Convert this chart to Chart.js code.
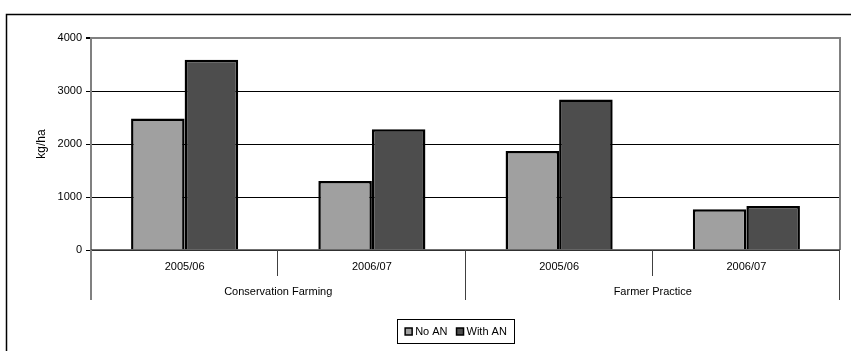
<!DOCTYPE html>
<html>
<head>
<meta charset="utf-8">
<script src="https://cdn.jsdelivr.net/npm/chart.js@4"></script>
<style>
  html, body { margin: 0; padding: 0; background: #fff; }
  #wrap { width: 851px; height: 351px; }
</style>
</head>
<body>
<div id="wrap"><canvas id="yieldChart" width="851" height="351"></canvas></div>
<script>
// chart data
const years = ["2005/06", "2006/07", "2005/06", "2006/07"];
const groups = ["Conservation Farming", "Farmer Practice"];
const groupOf = [0, 0, 1, 1];
const noAN = [2480, 1300, 1870, 770];
const withAN = [3590, 2280, 2840, 830];
const yTicks = [0, 1000, 2000, 3000, 4000];

const FONT = "'Liberation Sans', Arial, sans-serif";

// frame, right border, two-level x axis and boxed legend
const decorations = {
  id: "decorations",
  afterDraw(chart) {
    const ctx = chart.ctx;
    const a = chart.chartArea;
    const x = chart.scales.x;
    const half = (x.getPixelForValue(1) - x.getPixelForValue(0)) / 2;

    ctx.save();
    // outer frame (runs off the right and bottom)
    ctx.strokeStyle = "#000";
    ctx.lineWidth = 1.5;
    ctx.beginPath();
    ctx.moveTo(6.5, 360);
    ctx.lineTo(6.5, 14.5);
    ctx.lineTo(860, 14.5);
    ctx.stroke();

    // plot area right border
    ctx.strokeStyle = "#808080";
    ctx.lineWidth = 2;
    ctx.beginPath();
    ctx.moveTo(a.right, a.top - 1);
    ctx.lineTo(a.right, a.bottom);
    ctx.stroke();

    // x axis line
    ctx.strokeStyle = "#404040";
    ctx.lineWidth = 1.5;
    ctx.beginPath();
    ctx.moveTo(a.left, a.bottom);
    ctx.lineTo(a.right, a.bottom);
    ctx.stroke();

    // left axis continues down through label area
    ctx.strokeStyle = "#808080";
    ctx.lineWidth = 2;
    ctx.beginPath();
    ctx.moveTo(a.left, a.bottom);
    ctx.lineTo(a.left, a.bottom + 50);
    ctx.stroke();

    // separators
    ctx.strokeStyle = "#404040";
    ctx.lineWidth = 1;
    for (let i = 0; i < years.length; i++) {
      const edge = Math.round(x.getPixelForValue(i) + half) - 0.5;
      const last = i === years.length - 1 || groupOf[i] !== groupOf[i + 1];
      ctx.beginPath();
      ctx.moveTo(edge, a.bottom);
      ctx.lineTo(edge, a.bottom + (last ? 50 : 26));
      ctx.stroke();
    }

    // labels
    ctx.fillStyle = "#000";
    ctx.font = "11px " + FONT;
    ctx.textAlign = "center";
    ctx.textBaseline = "middle";
    years.forEach((y, i) => {
      ctx.fillText(y, x.getPixelForValue(i), a.bottom + 17);
    });
    groups.forEach((g, gi) => {
      const idx = [];
      groupOf.forEach((v, i) => { if (v === gi) idx.push(i); });
      const cx = (x.getPixelForValue(idx[0]) + x.getPixelForValue(idx[idx.length - 1])) / 2;
      ctx.fillText(g, cx, a.bottom + 42);
    });

    // legend
    const ds = chart.data.datasets;
    ctx.textAlign = "left";
    const widths = ds.map(d => 7 + 3 + ctx.measureText(d.label).width);
    const gap = 9;
    const total = widths.reduce((s, w) => s + w, 0) + gap * (ds.length - 1);
    const boxL = 397.5, boxT = 319.5, boxW = 117, boxH = 24;
    ctx.strokeStyle = "#000";
    ctx.lineWidth = 1;
    ctx.strokeRect(boxL, boxT, boxW, boxH);
    let lx = boxL + (boxW - total) / 2;
    const ly = boxT + boxH / 2;
    ds.forEach((d, i) => {
      ctx.fillStyle = d.backgroundColor;
      ctx.fillRect(lx, ly - 3.5, 7, 7);
      ctx.strokeStyle = "#000";
      ctx.lineWidth = 1.5;
      ctx.strokeRect(lx, ly - 3.5, 7, 7);
      ctx.fillStyle = "#000";
      ctx.fillText(d.label, lx + 10, ly);
      lx += widths[i] + gap;
    });
    ctx.restore();
  }
};

new Chart(document.getElementById("yieldChart"), {
  type: "bar",
  data: {
    labels: years,
    datasets: [
      {
        label: "No AN",
        data: noAN,
        backgroundColor: "#a0a0a0",
        borderColor: "#000",
        borderWidth: 2.5,
        categoryPercentage: 0.572,
        barPercentage: 1
      },
      {
        label: "With AN",
        data: withAN,
        backgroundColor: "#4d4d4d",
        borderColor: "#000",
        borderWidth: 2.5,
        categoryPercentage: 0.572,
        barPercentage: 1
      }
    ]
  },
  options: {
    responsive: false,
    animation: false,
    layout: { padding: { left: 6, right: 11, top: 38, bottom: 101 } },
    plugins: {
      legend: { display: false },
      tooltip: { enabled: false }
    },
    scales: {
      x: { display: false },
      y: {
        min: 0,
        max: 4000,
        afterFit(scale) { scale.width = 85; },
        afterBuildTicks(scale) { scale.ticks = yTicks.map(v => ({ value: v })); },
        ticks: {
          color: "#000",
          padding: 4,
          font: { family: FONT, size: 11 },
          callback: v => String(v)
        },
        grid: {
          color: c => (c.tick && c.tick.value === 4000 ? "#808080" : "#000"),
          lineWidth: c => (c.tick && c.tick.value === 4000 ? 2 : 1),
          tickColor: "#000",
          tickLength: 5
        },
        border: { color: "#808080", width: 2 },
        title: {
          display: true,
          text: "kg/ha",
          color: "#000",
          font: { family: FONT, size: 12 },
          padding: { top: 28, bottom: 0 }
        }
      }
    }
  },
  plugins: [decorations]
});
</script>
</body>
</html>
